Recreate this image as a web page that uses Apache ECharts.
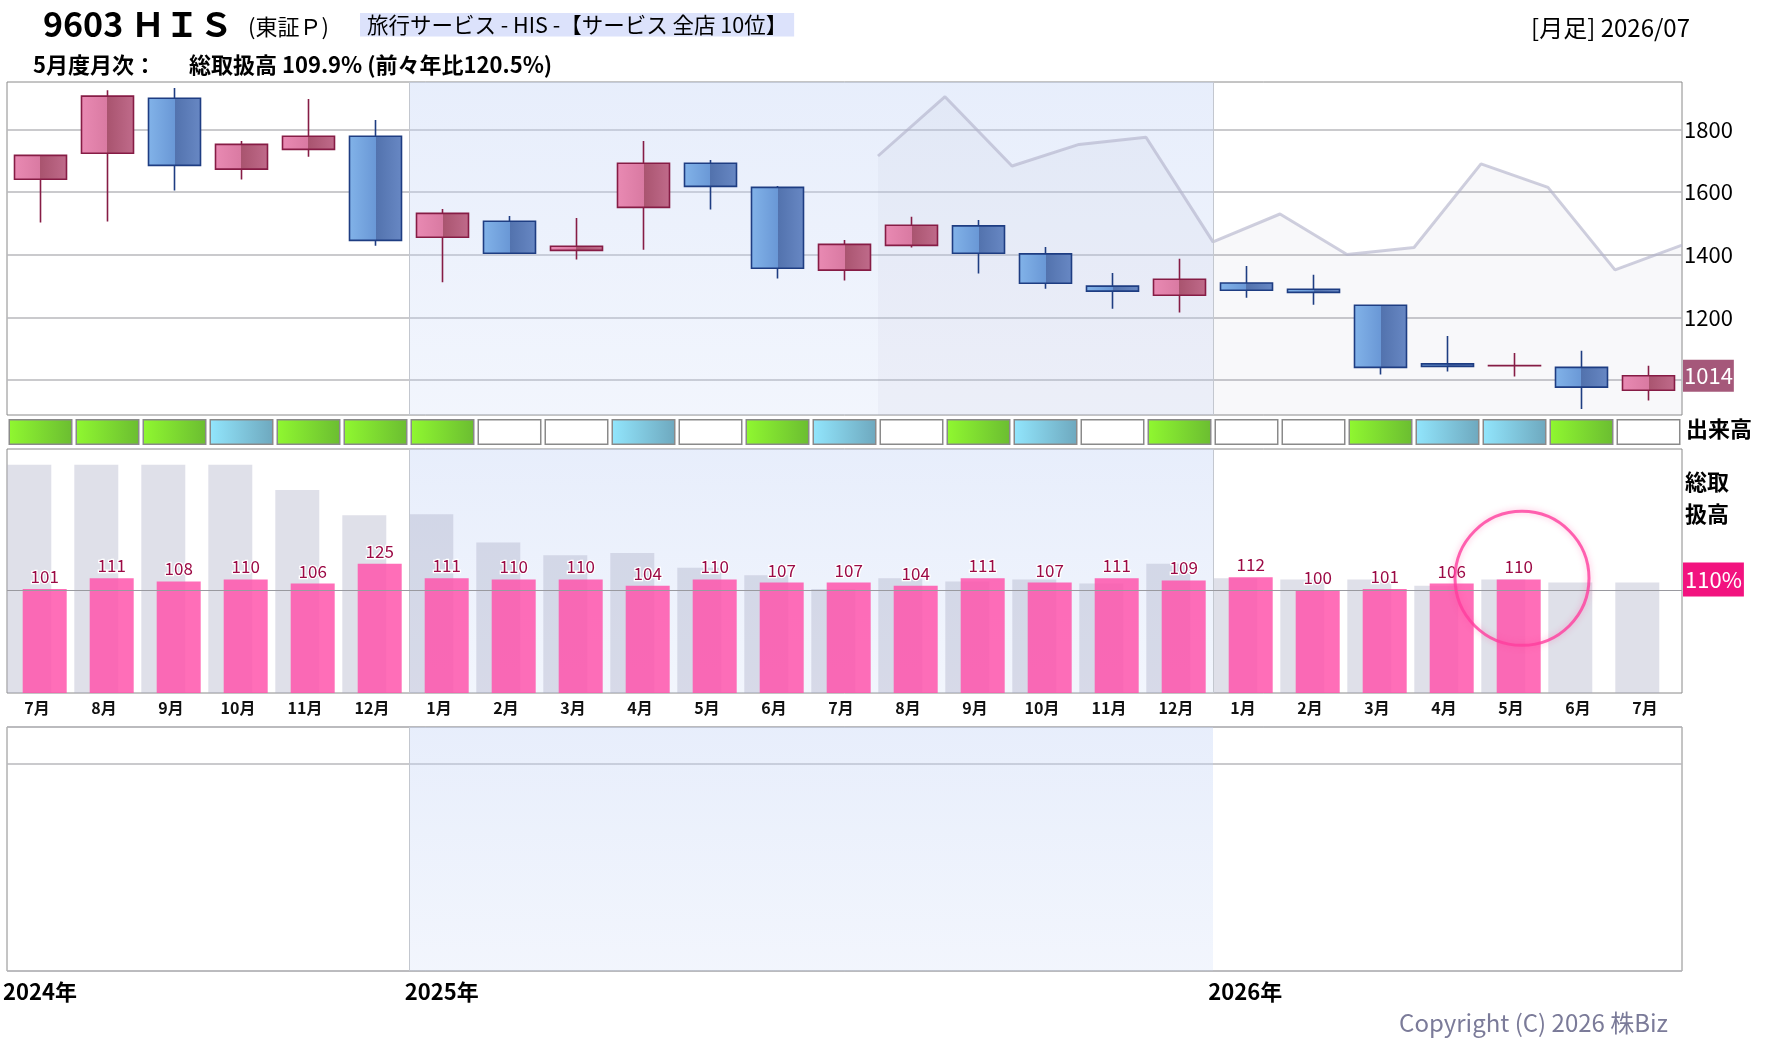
<!DOCTYPE html>
<html><head><meta charset="utf-8">
<script src="https://cdn.jsdelivr.net/npm/echarts@6/dist/echarts.min.js"></script>
<style>html,body{margin:0;padding:0;background:#fff}#c{width:1780px;height:1054px}</style>
</head><body><div id="c"></div>
<script>
// ---------------- DATA ----------------
const periods = ['2024-07','2024-08','2024-09','2024-10','2024-11','2024-12','2025-01','2025-02','2025-03','2025-04','2025-05','2025-06','2025-07','2025-08','2025-09','2025-10','2025-11','2025-12','2026-01','2026-02','2026-03','2026-04','2026-05','2026-06','2026-07'];
const monthLabels = ['7月','8月','9月','10月','11月','12月','1月','2月','3月','4月','5月','6月','7月','8月','9月','10月','11月','12月','1月','2月','3月','4月','5月','6月','7月'];
// [open, close, low, high]
const candles = [
  [1641,1717,1503,1720],[1724,1906,1506,1925],[1899,1685,1605,1932],[1673,1752,1640,1763],
  [1736,1778,1713,1897],[1778,1446,1429,1830],[1456,1532,1312,1546],[1507,1405,1405,1524],
  [1414,1427,1385,1517],[1551,1692,1416,1763],[1692,1618,1544,1702],[1615,1357,1324,1619],
  [1351,1433,1318,1447],[1430,1494,1423,1521],[1492,1405,1340,1511],[1403,1309,1292,1425],
  [1300,1284,1228,1342],[1271,1322,1216,1387],[1310,1287,1263,1364],[1290,1280,1241,1336],
  [1239,1041,1018,1239],[1052,1044,1028,1141],[1046,1047,1012,1087],[1041,978,908,1094],
  [968,1014,935,1046]
];
// comparison line at period boundaries b0..b25
const boundaries = ['b0','b1','b2','b3','b4','b5','b6','b7','b8','b9','b10','b11','b12','b13','b14','b15','b16','b17','b18','b19','b20','b21','b22','b23','b24','b25'];
const compareLine = [null,null,null,null,null,null,null,null,null,null,null,null,null,1715,1904,1683,1752,1775,1441,1530,1401,1423,1690,1615,1352,1431];
const yearLabels = ['2024年','','','','','','2025年','','','','','','','','','','','','2026年','','','','','','',''];
const priceTicks = [1000,1200,1400,1600,1800];
// volume level: 2 = high (green), 1 = medium (cyan), 0 = none
const volLevel = [2,2,2,1,2,2,2,0,0,1,0,2,1,0,2,1,0,2,0,0,2,1,1,2,0];
// 総取扱高 (% YoY) current and previous year
const salesYoY = [101,111,108,110,106,125,111,110,110,104,110,107,107,104,111,107,111,109,112,100,101,106,109.9,null,null];
const salesPrevYear = [219,219,219,219,195,171,172,145,133,135,121,114,101,111,108,110,106,125,111,110,110,104,110,107,107];
const highlightPeriod = '2026-05';
const shadeFrom = 'b6', shadeTo = 'b18';

// ---------------- STYLE ----------------
const FONT = '"Noto Sans CJK JP","Noto Sans",sans-serif';
const L = 7, W = 1675;
const lg = (stops, vertical) => ({type:'linear', x:0, y:0, x2: vertical?0:1, y2: vertical?1:0,
  colorStops: stops.map(s => ({offset:s[0], color:s[1]}))});
const upFill = lg([[0,'#e98ab3'],[0.5,'#d97aa2'],[0.5,'#a9546f'],[1,'#c06b8b']]);
const downFill = lg([[0,'#82b3e9'],[0.5,'#6a98d6'],[0.5,'#5272ad'],[1,'#6888c4']]);
const shadeFill = lg([[0,'rgba(196,212,246,0.40)'],[1,'rgba(196,212,246,0.22)']], true);
const volStyles = {
  2: {color: lg([[0,'#90f830'],[1,'#6bbd31']]), borderColor:'#8a8a8a', borderWidth:1.5},
  1: {color: lg([[0,'#92e6fd'],[1,'#6ea8be']]), borderColor:'#8a8a8a', borderWidth:1.5},
  0: {color: '#ffffff', borderColor:'#8a8a8a', borderWidth:1.5}
};
const yearLine = {color:'#c3c7cf', width:1, type:'solid'};
const hiddenLine = {color:'rgba(0,0,0,0)', width:0};
const nulls = boundaries.map(() => null);
const lastClose = candles[candles.length-1][1];
const latestSales = salesYoY.filter(v => v != null).slice(-1)[0];

const option = {
  animation: false,
  textStyle: {fontFamily: FONT},
  grid: [
    {left:L, top:82, width:W, height:333, show:true, borderColor:'#8a8a8a', borderWidth:1, backgroundColor:'#fff'},
    {left:L, top:419, width:W, height:26},
    {left:L, top:449, width:W, height:244, show:true, borderColor:'#8a8a8a', borderWidth:1, backgroundColor:'#fff'},
    {left:L-3.5, top:449, width:W, height:244},
    {left:L, top:727, width:W, height:244, show:true, borderColor:'#8a8a8a', borderWidth:1, backgroundColor:'#fff'},
    {left:L-5, top:727, width:W, height:244}
  ],
  xAxis: [
    {gridIndex:0, type:'category', data:periods, show:false},
    {gridIndex:0, type:'category', data:boundaries, boundaryGap:false, show:false},
    {gridIndex:1, type:'category', data:periods, show:false},
    {gridIndex:2, type:'category', data:boundaries, boundaryGap:false, show:false},
    {gridIndex:3, type:'category', data:periods, position:'bottom',
      axisLine:{show:false}, axisTick:{show:false},
      axisLabel:{interval:0, margin:7, fontSize:16, fontWeight:'bold', color:'#111',
        formatter:(v,i) => monthLabels[i]}},
    {gridIndex:4, type:'category', data:boundaries, boundaryGap:false, show:false},
    {gridIndex:5, type:'category', data:boundaries, boundaryGap:false, position:'bottom',
      axisLine:{show:false}, axisTick:{show:false},
      axisLabel:{show:true, interval:(i) => yearLabels[i] !== '', formatter:(v,i) => yearLabels[i],
        align:'left', margin:10, fontSize:22, fontWeight:'bold', color:'#000'}}
  ],
  yAxis: [
    {gridIndex:0, type:'value', min:889, max:1951, position:'right',
      axisLine:{show:false}, axisTick:{show:false, customValues:priceTicks},
      axisLabel:{customValues:priceTicks, margin:2, fontSize:22, color:'#000', formatter:v => String(v)},
      splitLine:{show:true, lineStyle:{color:'#b9b9bc', width:1.5}}},
    {gridIndex:1, type:'value', min:0, max:1, show:false},
    {gridIndex:2, type:'value', min:2, max:234, show:false},
    {gridIndex:3, type:'value', min:2, max:234, show:false},
    {gridIndex:4, type:'value', min:0, max:118, interval:100,
      axisLine:{show:false}, axisTick:{show:false}, axisLabel:{show:false},
      splitLine:{show:true, lineStyle:{color:'#b9b9bc', width:1.5}}},
    {gridIndex:5, type:'value', min:0, max:1, show:false}
  ],
  series: [
    // main panel shading + year lines
    {type:'line', xAxisIndex:1, yAxisIndex:0, data:nulls, silent:true, z:1, showSymbol:false,
      markArea:{silent:true, itemStyle:{color:shadeFill}, data:[[{xAxis:shadeFrom},{xAxis:shadeTo}]]},
      markLine:{silent:true, symbol:['none','none'], label:{show:false}, lineStyle:yearLine,
        data:[{xAxis:shadeFrom},{xAxis:shadeTo}]}},
    // comparison line with area
    {type:'line', xAxisIndex:1, yAxisIndex:0, data:compareLine, z:2, silent:true, showSymbol:false,
      lineStyle:{color:'rgba(178,178,202,0.62)', width:3},
      areaStyle:{color:'rgba(150,150,178,0.10)', origin:'start'}},
    // candles
    {type:'candlestick', xAxisIndex:0, yAxisIndex:0, data:candles, barWidth:52, z:3,
      itemStyle:{color:upFill, color0:downFill, borderColor:'#861c45', borderColor0:'#1e3d82', borderWidth:1.6},
      markLine:{silent:true, symbol:['none','none'], lineStyle:hiddenLine,
        label:{show:true, position:'end', distance:1, formatter:String(lastClose),
          backgroundColor:'#a5587a', color:'#fff', fontSize:22, padding:[6,1,4,1]},
        data:[{yAxis:lastClose}]}},
    // volume strip
    {type:'bar', xAxisIndex:2, yAxisIndex:1, barCategoryGap:'4.5%', silent:true,
      data: volLevel.map(l => ({value:1, itemStyle:volStyles[l]}))},
    // sub panel shading + year lines
    {type:'line', xAxisIndex:3, yAxisIndex:2, data:nulls, silent:true, z:1, showSymbol:false,
      markArea:{silent:true, itemStyle:{color:shadeFill}, data:[[{xAxis:shadeFrom},{xAxis:shadeTo}]]},
      markLine:{silent:true, symbol:['none','none'], label:{show:false}, lineStyle:yearLine,
        data:[{xAxis:shadeFrom},{xAxis:shadeTo}]}},
    // previous year bars
    {type:'bar', xAxisIndex:4, yAxisIndex:3, data:salesPrevYear, barWidth:44, barGap:'-65%', z:3, silent:true,
      itemStyle:{color:'rgba(165,168,195,0.36)'}},
    // current bars
    {type:'bar', xAxisIndex:4, yAxisIndex:3, data:salesYoY, barWidth:44, z:4, silent:true,
      itemStyle:{color:'rgba(255,82,170,0.84)'},
      label:{show:true, position:'top', distance:4, fontSize:17, color:'#9c0a45',
        textBorderColor:'#fff', textBorderWidth:2.5, formatter:p => p.value == null ? '' : Math.round(p.value)}},
    // 100 line
    {type:'line', xAxisIndex:3, yAxisIndex:2, data:nulls, silent:true, z:6, showSymbol:false,
      markLine:{silent:true, symbol:['none','none'], lineStyle:{color:'#9a9aa0', width:1, type:'solid'},
        label:{show:false}, data:[{yAxis:100}]}},
    // latest value label
    {type:'line', xAxisIndex:3, yAxisIndex:2, data:nulls, silent:true, z:6, showSymbol:false,
      markLine:{silent:true, symbol:['none','none'], lineStyle:hiddenLine,
        label:{show:true, position:'end', distance:1, formatter:Math.round(latestSales)+'%',
          backgroundColor:'#f2137f', color:'#fff', fontSize:22, padding:[7,2,5,2]},
        data:[{yAxis:latestSales}]}},
    // highlight circle
    {type:'scatter', xAxisIndex:4, yAxisIndex:3, data:[[highlightPeriod, 111]], z:8, silent:true,
      symbol:'circle', symbolSize:134, symbolOffset:[11,0],
      itemStyle:{color:'rgba(0,0,0,0)', borderColor:'#ff3d9e', borderWidth:3,
        shadowBlur:6, shadowColor:'rgba(255,60,150,0.45)'}},
    // bottom panel shading + year line
    {type:'line', xAxisIndex:5, yAxisIndex:4, data:nulls, silent:true, z:1, showSymbol:false,
      markArea:{silent:true, itemStyle:{color:shadeFill}, data:[[{xAxis:shadeFrom},{xAxis:shadeTo}]]},
      markLine:{silent:true, symbol:['none','none'], label:{show:false}, lineStyle:yearLine,
        data:[{xAxis:shadeFrom}]}},
    {type:'line', xAxisIndex:6, yAxisIndex:5, data:nulls, silent:true, showSymbol:false}
  ],
  graphic: [
    {type:'text', left:43, top:7, style:{text:'9603 ＨＩＳ', font:'bold 34px '+FONT, fill:'#000'}},
    {type:'text', left:248, top:16, style:{text:'(東証Ｐ)', font:'22px '+FONT, fill:'#000'}},
    {type:'text', left:360, top:13, style:{text:'旅行サービス - HIS -【サービス 全店 10位】', font:'21.5px '+FONT,
      fill:'#000', backgroundColor:'#dce2fb', padding:[1,7,1,7]}},
    {type:'text', left:33, top:54, style:{text:'5月度月次：', font:'bold 22px '+FONT, fill:'#000'}},
    {type:'text', left:189, top:54, style:{text:'総取扱高 109.9% (前々年比120.5%)', font:'bold 22px '+FONT, fill:'#000'}},
    {type:'text', right:90, top:16, style:{text:'[月足] 2026/07', font:'24px '+FONT, fill:'#000'}},
    {type:'text', left:1686, top:418, style:{text:'出来高', font:'bold 22px '+FONT, fill:'#000'}},
    {type:'text', left:1685, top:466, style:{text:'総取\n扱高', font:'bold 22px '+FONT, fill:'#000', lineHeight:32}},
    {type:'text', right:112, top:1011, style:{text:'Copyright (C) 2026 株Biz', font:'24px '+FONT, fill:'#7b7b99'}}
  ]
};
const chart = echarts.init(document.getElementById('c'));
chart.setOption(option);
</script>
</body></html>
